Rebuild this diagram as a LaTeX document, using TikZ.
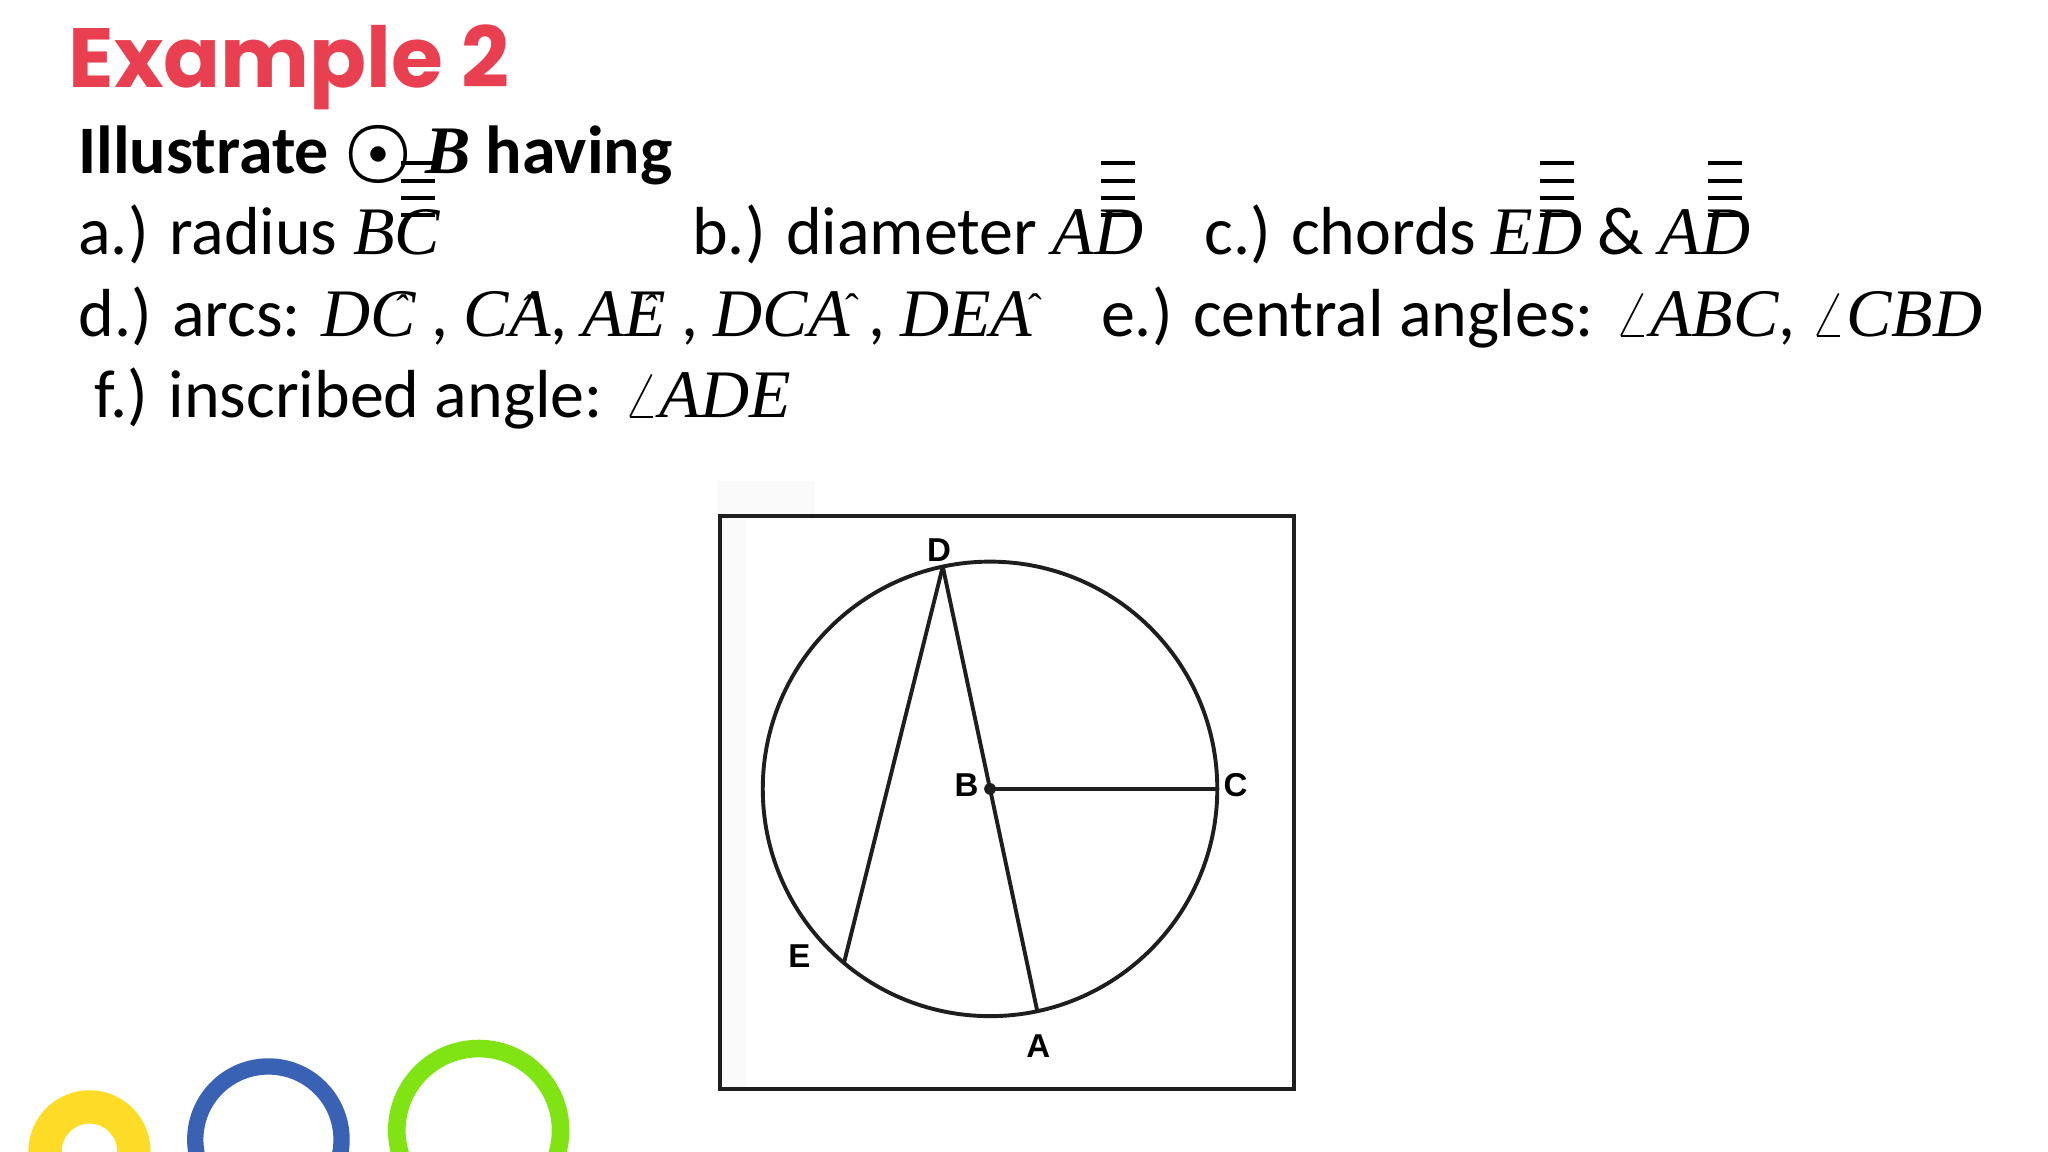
\documentclass[tikz,border=0pt]{standalone}
\usepackage{fontspec}
\setmainfont{Carlito}
\newfontfamily\titlefont{Poppins}
\newfontfamily\mifont{Liberation Serif}
\newfontfamily\lblfont{Liberation Sans}
\definecolor{titlered}{RGB}{232,64,80}
\definecolor{ringyellow}{RGB}{253,220,40}
\definecolor{ringblue}{RGB}{58,98,180}
\definecolor{ringgreen}{RGB}{128,228,20}
\definecolor{ink}{RGB}{30,30,30}
\newcommand\mv[1]{{\mifont\itshape #1}}
\newcommand\barline[1]{\rlap{\kern1.5pt\rule[#1]{7.4pt}{0.85pt}}}
\newcommand\bstack{\barline{8.3pt}\barline{12.0pt}\barline{15.7pt}\barline{19.6pt}}
\newcommand\ontophat[2]{\rlap{\kern#1\raisebox{#2}[0pt][0pt]{\fontsize{9}{9}\selectfont\mifont\symbol{"02C6}}}}
\begin{document}
\begin{tikzpicture}[x=0.01cm,y=-0.01cm,
  txt/.style={anchor=base west,inner sep=0,outer sep=0,font=\fontsize{14.8}{17}\selectfont},
  lbl/.style={inner sep=0,outer sep=0,font=\lblfont\bfseries\fontsize{7.2}{8}\selectfont},
  geo/.style={draw=ink,line width=0.85pt}]
\clip (0,0) rectangle (1568,882);
\fill[white] (0,0) rectangle (1568,882);
% title
\node[anchor=base west,inner sep=0,text=titlered,font=\titlefont\bfseries\fontsize{18.3}{20}\selectfont] (title) at (52,67) {Example 2};
\node[txt,font=\bfseries\fontsize{14.8}{17}\selectfont] (head) at (60,133) {Illustrate \scalebox{1.15}{\boldmath$\odot$}\kern2.8pt{\mifont\bfseries\itshape B} having};
% line a
\node[txt] (la) at (60,195) {a.) radius \mv{B\bstack C}};
\node[txt] (lb) at (530,195) {b.) diameter \mv{A\bstack D}};
\node[txt] (lc) at (922,195) {c.) chords \mv{E\bstack D} \& \mv{A\bstack D}};
% line d
\node[txt] (ld) at (60,258) {d.) arcs: \mv{D\ontophat{5pt}{3pt}C} , \mv{C\ontophat{2.5pt}{3pt}A}, \mv{A\ontophat{4pt}{3pt}E} , \mv{DCA}\ontophat{-0.8pt}{3.2pt}\kern4pt , \mv{DEA}\ontophat{-0.8pt}{3.2pt}};
\node[txt] (le) at (843,258) {e.) central angles: $\angle$\mv{ABC}, $\angle$\mv{CBD}};
\node[txt] (lf) at (72,320) {f.) inscribed angle: $\angle$\mv{ADE}};
% figure
\fill[gray!4] (549,368) rectangle (624,397);
\fill[gray!4] (553,398) rectangle (571,832);
\draw[geo] (551,395) rectangle (991,834);
\coordinate (B) at (758,604);
\coordinate (C) at ([shift={(0:174)}]B);
\coordinate (D) at ([shift={(-102:174)}]B);
\coordinate (A) at ([shift={(78:174)}]B);
\coordinate (E) at ([shift={(130:174)}]B);
\draw[geo] (B) circle[radius=174];
\draw[geo] (D) -- (A);
\draw[geo] (D) -- (E);
\draw[geo] (B) -- (C);
\fill[ink] (B) circle[radius=4.5];
\node[lbl] (lD) at (719,421) {D};
\node[lbl] (lB) at (740,601) {B};
\node[lbl] (lC) at (946,601) {C};
\node[lbl] (lE) at (612,732) {E};
\node[lbl] (lA) at (795,801) {A};
% rings
\draw[ringyellow,line width=0.255cm] (68.5,881.5) circle[radius=34];
\draw[ringblue,line width=0.125cm] (205.5,872.5) circle[radius=56];
\draw[ringgreen,line width=0.135cm] (366.5,865.5) circle[radius=62.7];
\end{tikzpicture}
\end{document}
